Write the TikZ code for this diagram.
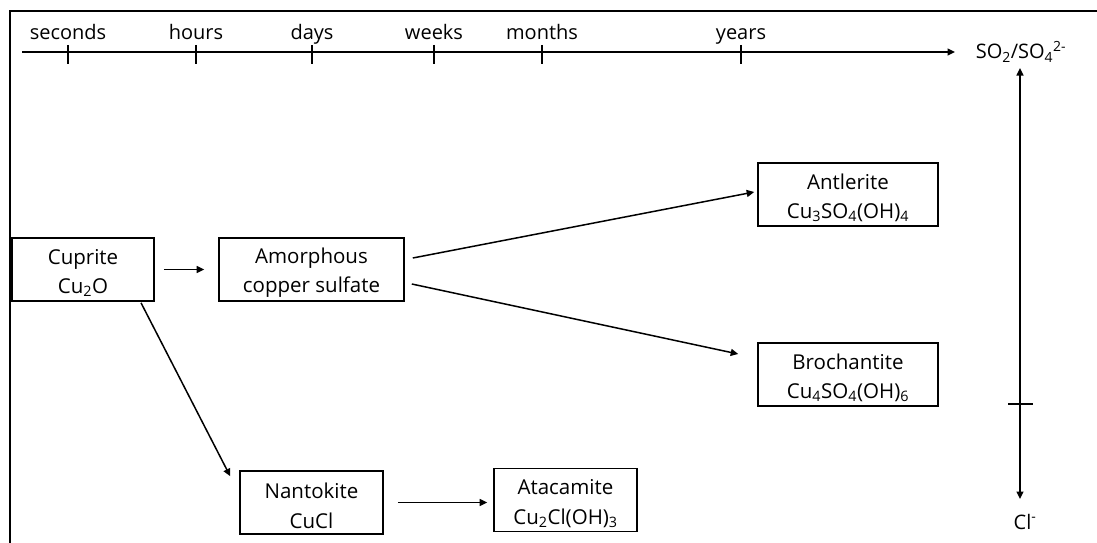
\documentclass[tikz,border=0pt]{standalone}
\usepackage{fontspec}
\setmainfont{Open Sans}
\usetikzlibrary{arrows.meta,calc}
\newcommand\firstln{\rule{0pt}{22pt}}
\begin{document}
\begin{tikzpicture}[x=1pt,y=-1pt,
  box/.style={draw, line width=1.6pt, minimum width=#1, minimum height=63pt, inner sep=0pt, align=center, font=\fontsize{20.5}{29.5}\selectfont},
  arr/.style={-{Triangle[length=7.5pt,width=7pt]}, line width=1.5pt},
  darr/.style={{Triangle[length=7.5pt,width=7pt]}-{Triangle[length=7.5pt,width=7pt]}, line width=1.5pt},
  lab/.style={inner sep=0pt, font=\fontsize{20}{24}\selectfont},
  tick/.style={line width=1.5pt}]
\useasboundingbox (0,0) rectangle (1097,543);
% frame
\draw[line width=1.8pt] (10,543) -- (10,11) -- (1097,11);
% timeline
\coordinate (t0) at (22,52);
\coordinate (t1) at (955,52);
\draw[arr] (t0) -- (t1);
\foreach \x/\t in {68/seconds,196/hours,312/days,434/weeks,542/months,741/years}{
  \draw[tick] (\x,45) -- (\x,64);
  \node[lab, anchor=base] at (\x,40) {\t};
}
\node[lab, anchor=base] (so) at (1021,59) {SO\textsubscript{2}/SO\textsubscript{4}\textsuperscript{2-}};
\node[lab, anchor=base] (cl) at (1025,529) {Cl\textsuperscript{-}};
\coordinate (vtop) at (1020,68);
\coordinate (vbot) at (1020,499);
\draw[darr] (vtop) -- (vbot);
\draw[tick] (1008,404) -- (1033,404);
% boxes
\node[box=142pt] (cup) at (83,269.5) {\firstln Cuprite\\Cu\textsubscript{2}O};
\node[box=185pt] (amo) at (311.5,269.5) {\firstln Amorphous\\copper sulfate};
\node[box=180pt] (ant) at (848,194.5) {\firstln Antlerite\\Cu\textsubscript{3}SO\textsubscript{4}(OH)\textsubscript{4}};
\node[box=180pt] (bro) at (848,374.5) {\firstln Brochantite\\Cu\textsubscript{4}SO\textsubscript{4}(OH)\textsubscript{6}};
\node[box=143pt] (nan) at (311.5,502.5) {\firstln Nantokite\\CuCl};
\node[box=143pt] (ata) at (565.5,500) {\firstln Atacamite\\Cu\textsubscript{2}Cl(OH)\textsubscript{3}};
% connectors
\draw[arr] ([xshift=9pt]cup.east) -- ([xshift=-14pt]amo.west);
\draw[arr] ($(amo.east)+(8,-11.5)$) -- ($(ant.west)+(-3,-2.5)$);
\draw[arr] ($(amo.east)+(7,14.5)$) -- ($(bro.west)+(-19,-20.5)$);
\draw[arr] ($(cup.south)+(58,1)$) -- ($(nan.north west)+(-9,6)$);
\draw[arr] ($(nan.east)+(14,0)$) -- ($(ata.west |- nan.east)+(-6,0)$);
\end{tikzpicture}
\end{document}
